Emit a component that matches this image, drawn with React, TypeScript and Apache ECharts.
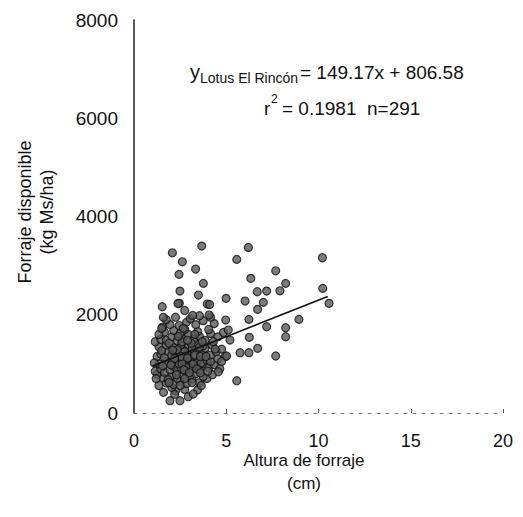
import React, { useEffect, useRef } from "react";
import * as echarts from "echarts";

const xTicks = [0, 5, 10, 15, 20];
const yTicks = [0, 2000, 4000, 6000, 8000];

// Regression stated in the chart
const slope = 149.17;
const intercept = 806.58;
const regX = [1.0, 10.5];

// Scattered points (altura cm, forraje kg MS/ha)
const outlierPoints: [number, number][] = [
  [3.67, 3398], [6.2, 3371], [2.08, 3261], [2.62, 3078], [5.57, 3127], [10.21, 3160],
  [3.34, 2930], [2.44, 2822], [7.68, 2895], [6.33, 2741], [3.76, 2639], [8.22, 2639],
  [2.49, 2482], [3.49, 2401], [6.68, 2468], [7.19, 2482], [7.91, 2488], [10.23, 2537],
  [4.99, 2334], [6.02, 2279], [7.01, 2252], [10.57, 2232], [3.97, 2218], [2.46, 2232],
  [1.53, 2163], [6.7, 2110], [8.94, 1906], [6.23, 1906], [7.19, 1756], [8.22, 1736],
  [8.22, 1552], [6.25, 1540], [5.75, 1227], [6.23, 1227], [6.7, 1316], [7.68, 1160],
  [5.57, 657], [5.02, 1160], [1.95, 250], [2.49, 250], [2.94, 332], [3.21, 387],
  [4.07, 1994], [4.97, 1892], [2.67, 1723], [1.59, 1947], [1.5, 1723], [5.11, 1689],
  [5.2, 1485], [4.57, 840], [2.38, 2229], [2.75, 2087], [4.1, 2209],
];

// Dense cluster at low heights
const clusterPoints: [number, number][] = [
  [1.6, 420], [2.25, 450], [2.75, 480], [3.45, 470], [2.05, 520],
  [1.35, 560], [1.75, 610], [2.15, 580], [2.5, 640], [2.85, 600], [3.15, 690], [3.55, 620],
  [3.95, 700], [1.55, 720], [2.05, 750], [2.35, 700], [2.65, 780], [3.05, 760], [3.35, 800],
  [3.75, 740], [4.25, 780], [1.25, 790], [1.85, 680], [2.5, 560], [3.65, 560],
  [1.15, 850], [1.45, 900], [1.65, 830], [1.95, 880], [2.15, 950], [2.35, 860], [2.55, 920],
  [2.75, 870], [2.95, 980], [3.15, 900], [3.35, 960], [3.55, 880], [3.75, 1000], [4.05, 920],
  [4.35, 980], [4.65, 900], [1.35, 1000], [1.75, 1050], [2.05, 1020], [2.25, 1080], [2.45, 1000],
  [2.65, 1060], [2.85, 1030], [3.05, 1090], [3.25, 1040], [3.45, 1070], [3.65, 1020], [3.95, 1080],
  [4.15, 1050], [4.55, 1100], [1.55, 960], [2.8, 940], [3.2, 1000], [2.6, 1010],
  [1.25, 1150], [1.45, 1200], [1.65, 1130], [1.85, 1250], [2.05, 1180], [2.25, 1220], [2.45, 1140],
  [2.65, 1300], [2.85, 1180], [3.05, 1250], [3.25, 1160], [3.45, 1280], [3.65, 1200], [3.85, 1320],
  [4.15, 1180], [4.45, 1250], [4.75, 1300], [1.35, 1350], [1.75, 1380], [2.15, 1330], [2.55, 1390],
  [2.95, 1350], [3.35, 1400], [3.75, 1370], [4.25, 1380], [2.35, 1290], [2.75, 1250], [3.15, 1310],
  [3.55, 1340],
  [1.15, 1450], [1.45, 1500], [1.75, 1480], [2.05, 1550], [2.35, 1470], [2.65, 1520], [2.95, 1600],
  [3.25, 1500], [3.55, 1560], [3.85, 1480], [4.15, 1620], [4.55, 1550], [1.65, 1650], [2.15, 1680],
  [2.75, 1700], [3.45, 1660], [4.05, 1700], [1.35, 1600], [2.5, 1620], [4.85, 1640],
  [1.55, 1750], [1.95, 1800], [2.45, 1780], [2.85, 1850], [3.35, 1800], [3.75, 1880], [4.35, 1820],
  [1.75, 1900], [2.25, 1950], [3.05, 1920], [3.55, 1980], [4.15, 1950], [3.18, 1986],
  [2.55, 1150], [2.7, 880], [2.9, 1120], [3.0, 820], [3.3, 1180], [3.4, 900], [2.2, 1110],
  [2.0, 980], [2.3, 780], [3.1, 1420], [3.6, 1150], [3.9, 1150], [1.9, 1420], [2.6, 1450],
  [3.15, 620], [2.75, 700], [2.1, 1280], [4.95, 1150], [4.75, 1050], [1.1, 1020], [1.2, 700],
  [2.4, 1560], [2.9, 1480], [3.3, 1600], [3.7, 1450], [4.3, 1450], [1.9, 620], [2.2, 380],
  [3.6, 820], [4.0, 850], [4.4, 1300], [1.5, 1270],
];

export default function App() {
  const ref = useRef<HTMLDivElement>(null);

  useEffect(() => {
    if (!ref.current) return;
    const chart = echarts.init(ref.current, undefined, { renderer: "svg" });
    const font = "'Liberation Sans', Arial, sans-serif";
    const allPoints = [...clusterPoints, ...outlierPoints];
    const regLine = regX.map((x) => [x, slope * x + intercept]);

    chart.setOption({
      animation: false,
      backgroundColor: "#ffffff",
      grid: { left: 134, right: 20, top: 20, bottom: 104, containLabel: false },
      xAxis: {
        type: "value",
        min: 0,
        max: 20,
        interval: 5,
        axisLine: { show: true, onZero: false, lineStyle: { color: "#777", width: 1, type: [3, 6] } },
        axisTick: { show: true, inside: true, length: 4, lineStyle: { color: "#555" } },
        axisLabel: {
          color: "#111",
          fontSize: 18,
          fontFamily: font,
          margin: 19,
          formatter: (v: number) => (xTicks.includes(v) ? String(v) : ""),
        },
        splitLine: { show: false },
      },
      yAxis: {
        type: "value",
        min: 0,
        max: 8000,
        interval: 2000,
        axisLine: { show: true, onZero: false, lineStyle: { color: "#222", width: 1.5 } },
        axisTick: { show: false },
        axisLabel: {
          color: "#111",
          fontSize: 19,
          fontFamily: font,
          margin: 16,
          formatter: (v: number) => (yTicks.includes(v) ? String(v) : ""),
        },
        splitLine: { show: false },
      },
      series: [
        {
          type: "scatter",
          data: allPoints,
          symbol: "circle",
          symbolSize: 8,
          itemStyle: { color: "#5a5a5a", borderColor: "#111", borderWidth: 1.2 },
          z: 2,
        },
        {
          type: "line",
          data: regLine,
          symbol: "none",
          lineStyle: { color: "#111", width: 1.6 },
          z: 3,
        },
      ],
      graphic: [
        {
          type: "text",
          x: 36,
          y: 212,
          rotation: Math.PI / 2,
          style: {
            text: "Forraje disponible\n(kg Ms/ha)",
            font: `18px ${font}`,
            fill: "#111",
            align: "center",
            verticalAlign: "middle",
            lineHeight: 22,
          },
        },
        {
          type: "text",
          x: 304,
          y: 472,
          style: {
            text: "Altura de forraje\n(cm)",
            font: `17px ${font}`,
            fill: "#111",
            align: "center",
            verticalAlign: "middle",
            lineHeight: 23,
          },
        },
        {
          type: "text",
          x: 190,
          y: 72,
          style: { text: "y", font: `20px ${font}`, fill: "#111", verticalAlign: "middle" },
        },
        {
          type: "text",
          x: 200,
          y: 78,
          style: { text: "Lotus El Rincón", font: `14px ${font}`, fill: "#111", verticalAlign: "middle" },
        },
        {
          type: "text",
          x: 300,
          y: 72,
          style: { text: "= 149.17x + 806.58", font: `19px ${font}`, fill: "#111", verticalAlign: "middle" },
        },
        {
          type: "text",
          x: 264,
          y: 108,
          style: { text: "r", font: `19px ${font}`, fill: "#111", verticalAlign: "middle" },
        },
        {
          type: "text",
          x: 271,
          y: 99,
          style: { text: "2", font: `12px ${font}`, fill: "#111", verticalAlign: "middle" },
        },
        {
          type: "text",
          x: 282,
          y: 108,
          style: { text: "= 0.1981  n=291", font: `19px ${font}`, fill: "#111", verticalAlign: "middle" },
        },
      ],
    });

    return () => chart.dispose();
  }, []);

  return <div ref={ref} style={{ width: 523, height: 517, position: "absolute", left: 0, top: 0 }} />;
}
